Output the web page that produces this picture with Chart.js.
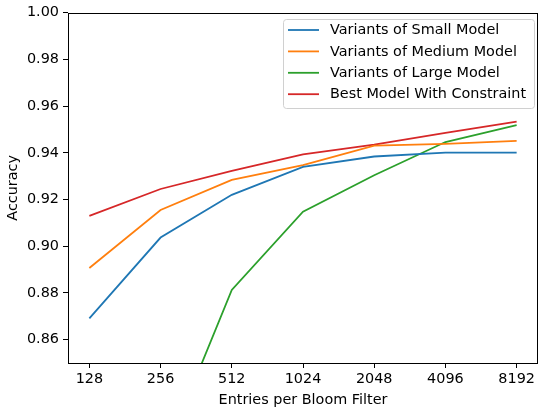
<!DOCTYPE html>
<html>
<head>
<meta charset="utf-8">
<script src="https://cdn.jsdelivr.net/npm/chart.js@4.4.0/dist/chart.umd.min.js"></script>
<style>
  html, body { margin: 0; padding: 0; background: #fff; }
  #wrap { width: 539px; height: 412px; }
</style>
</head>
<body>
<div id="wrap"><canvas id="accChart" width="539" height="412"></canvas></div>
<script>
// tick labels along x (entries per bloom filter)
const entries = ['128', '256', '512', '1024', '2048', '4096', '8192'];
const yTicks = [0.86, 0.88, 0.90, 0.92, 0.94, 0.96, 0.98, 1.00];

// accuracy values
const smallModel  = [0.8691, 0.9037, 0.9220, 0.9340, 0.9384, 0.9401, 0.9401];
const mediumModel = [0.8907, 0.9155, 0.9284, 0.9347, 0.9431, 0.9438, 0.9451];
const largeModel  = [null,   0.8067, 0.8813, 0.9148, 0.9304, 0.9446, 0.9518];
const bestModel   = [0.9130, 0.9245, 0.9323, 0.9393, 0.9435, 0.9485, 0.9533];

const seriesNames = ['Variants of Small Model', 'Variants of Medium Model',
                     'Variants of Large Model', 'Best Model With Constraint'];
const colors = ['#1f77b4', '#ff7f0e', '#2ca02c', '#d62728'];

const FONT = 'DejaVu Sans';
const FS = 14.4;

function toPoints(arr) {
  return arr.map((v, i) => ({ x: i, y: v }));
}

// box around the plot, like matplotlib spines
const frame = {
  id: 'frame',
  afterDatasetsDraw(chart) {
    const a = chart.chartArea;
    const c = chart.ctx;
    c.save();
    c.strokeStyle = '#000';
    c.lineWidth = 1;
    c.strokeRect(Math.round(a.left) + 0.5, Math.round(a.top) + 0.5,
                 Math.round(a.right - a.left) - 1, Math.round(a.bottom - a.top));
    c.restore();
  }
};

// legend drawn inside the upper right corner
const innerLegend = {
  id: 'innerLegend',
  afterDraw(chart) {
    const c = chart.ctx;
    const x = 283, y = 19, w = 251, h = 89, r = 3;
    c.save();
    c.fillStyle = 'rgba(255,255,255,0.8)';
    c.strokeStyle = '#d0d0d0';
    c.lineWidth = 1;
    c.beginPath();
    c.roundRect(x + 0.5, y + 0.5, w, h, r);
    c.fill();
    c.stroke();
    c.font = FS + 'px "' + FONT + '"';
    c.textBaseline = 'middle';
    c.fillStyle = '#000';
    chart.data.datasets.forEach((ds, i) => {
      const ry = 30 + i * 21.4;
      c.strokeStyle = ds.borderColor;
      c.lineWidth = 1.8;
      c.beginPath();
      c.moveTo(288, ry);
      c.lineTo(319, ry);
      c.stroke();
      c.fillText(ds.label, 330, ry + 0.5);
    });
    c.restore();
  }
};

const allSeries = [smallModel, mediumModel, largeModel, bestModel];

const accChart = new Chart(document.getElementById('accChart'), {
  type: 'line',
  data: {
    datasets: allSeries.map((s, i) => ({
      label: seriesNames[i],
      data: toPoints(s),
      borderColor: colors[i],
      backgroundColor: colors[i],
      borderWidth: 1.8,
      pointRadius: 0,
      tension: 0,
      spanGaps: false
    }))
  },
  options: {
    responsive: false,
    animation: false,
    layout: { padding: { top: 12, right: 1, left: 0, bottom: 0 } },
    plugins: {
      legend: { display: false },
      tooltip: { enabled: false }
    },
    scales: {
      x: {
        type: 'linear',
        min: -0.3,
        max: 6.3,
        afterBuildTicks(scale) {
          scale.ticks = entries.map((e, i) => ({ value: i }));
        },
        afterFit(scale) { scale.height = 49; },
        grid: { drawOnChartArea: false, drawTicks: true, tickLength: 5, color: '#000', lineWidth: 1 },
        border: { display: false },
        ticks: {
          color: '#000',
          padding: 3,
          maxRotation: 0,
          font: { family: FONT, size: FS },
          callback: (v) => entries[v]
        },
        title: {
          display: true,
          text: 'Entries per Bloom Filter',
          color: '#000',
          font: { family: FONT, size: FS },
          padding: { top: 0, bottom: 3 }
        }
      },
      y: {
        min: 0.85,
        max: 1.0,
        afterBuildTicks(scale) {
          scale.ticks = yTicks.map(v => ({ value: v }));
        },
        afterFit(scale) { scale.width = 68; },
        grid: { drawOnChartArea: false, drawTicks: true, tickLength: 5, color: '#000', lineWidth: 1 },
        border: { display: false },
        ticks: {
          color: '#000',
          padding: 4,
          font: { family: FONT, size: FS },
          callback: (v) => v.toFixed(2)
        },
        title: {
          display: true,
          text: 'Accuracy',
          color: '#000',
          font: { family: FONT, size: FS },
          padding: { top: 5, bottom: 0 }
        }
      }
    }
  },
  plugins: [frame, innerLegend]
});
</script>
</body>
</html>
